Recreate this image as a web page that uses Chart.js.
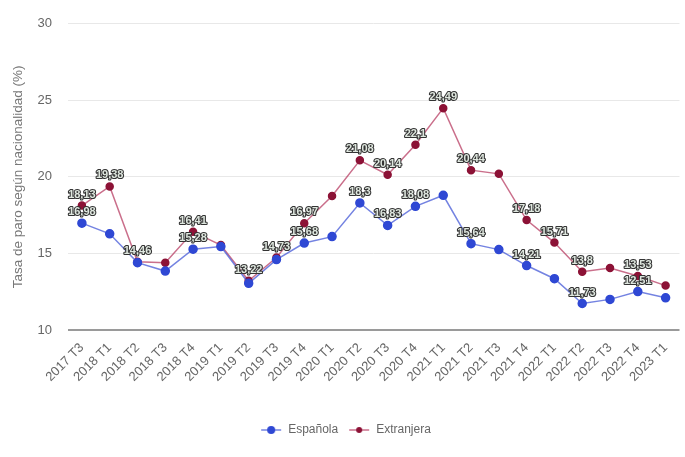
<!DOCTYPE html>
<html><head><meta charset="utf-8">
<script src="https://cdn.jsdelivr.net/npm/chart.js@4/dist/chart.umd.min.js"></script>
<style>html,body{margin:0;padding:0;background:#fff}</style>
</head><body>
<canvas id="c" width="685" height="457"></canvas>
<script>
const categories = ['2017 T3','2018 T1','2018 T2','2018 T3','2018 T4','2019 T1','2019 T2','2019 T3','2019 T4','2020 T1','2020 T2','2020 T3','2020 T4','2021 T1','2021 T2','2021 T3','2021 T4','2022 T1','2022 T2','2022 T3','2022 T4','2023 T1'];
const espanola = [16.98,16.28,14.4,13.85,15.28,15.45,13.05,14.6,15.68,16.1,18.3,16.83,18.08,18.8,15.64,15.25,14.21,13.35,11.73,12.0,12.51,12.1];
const extranjera = [18.13,19.38,14.46,14.4,16.41,15.55,13.22,14.73,16.97,18.75,21.08,20.14,22.1,24.49,20.44,20.2,17.18,15.71,13.8,14.05,13.53,12.9];
const espanolaLabeled = [0,4,8,10,11,12,14,16,18,20];
const extranjeraLabeled = [0,1,2,4,6,7,8,10,11,12,13,14,16,17,18,20];
const yTicks = [10,15,20,25,30];
const yTitle = 'Tasa de paro según nacionalidad (%)';

const BLUE = '#2f48d4', BLUE_LINE = 'rgba(70,90,215,0.75)';
const RED = '#8c1236', RED_LINE = 'rgba(180,50,90,0.7)';
const FONT = '"Liberation Sans", Arial, sans-serif';

function legendIcon(lineColor, dotColor, r){
  const cv = document.createElement('canvas');
  cv.width = 22; cv.height = 10;
  const g = cv.getContext('2d');
  g.strokeStyle = lineColor; g.lineWidth = 1.5;
  g.beginPath(); g.moveTo(1,5); g.lineTo(21,5); g.stroke();
  g.fillStyle = dotColor; g.beginPath(); g.arc(11,5,r,0,Math.PI*2); g.fill();
  return cv;
}

const labelPlugin = {
  id:'ptLabels',
  afterDatasetsDraw(chart){
    const ctx = chart.ctx;
    ctx.save();
    ctx.font = 'bold 11px ' + FONT;
    ctx.textAlign = 'center'; ctx.textBaseline = 'middle';
    ctx.lineJoin = 'round';
    chart.data.datasets.forEach((ds,di)=>{
      const meta = chart.getDatasetMeta(di);
      ds.labeled.forEach(i=>{
        const el = meta.data[i];
        const t = String(ds.data[i]).replace('.',',');
        ctx.lineWidth = 2.2; ctx.strokeStyle = '#333';
        ctx.strokeText(t, el.x, el.y - 11);
        ctx.fillStyle = '#dfe7df';
        ctx.fillText(t, el.x, el.y - 11);
      });
    });
    ctx.restore();
  }
};

new Chart(document.getElementById('c'), {
  type:'line',
  data:{
    labels: categories,
    datasets:[
      {label:'Española', data: espanola, labeled: espanolaLabeled, borderColor: BLUE_LINE, backgroundColor: BLUE,
       pointBackgroundColor: BLUE, pointBorderColor: BLUE, pointRadius: 4, borderWidth: 1.5, tension: 0,
       pointStyle: 'circle'},
      {label:'Extranjera', data: extranjera, labeled: extranjeraLabeled, borderColor: RED_LINE, backgroundColor: RED,
       pointBackgroundColor: RED, pointBorderColor: RED, pointRadius: 3.5, borderWidth: 1.5, tension: 0,
       pointStyle: 'circle'}
    ]
  },
  options:{
    responsive:false, animation:false, devicePixelRatio:1,
    layout:{padding:{top:20, left:6, right:0, bottom:11}},
    plugins:{
      legend:{position:'bottom',
        labels:{usePointStyle:true, pointStyleWidth:22, boxHeight:12, padding:10, color:'#666', font:{family:FONT,size:12},
          generateLabels(chart){
            return chart.data.datasets.map((ds,i)=>({
              text: ds.label, datasetIndex:i, fontColor:'#666',
              pointStyle: i===0 ? legendIcon(BLUE_LINE, BLUE, 4) : legendIcon(RED_LINE, RED, 3),
              hidden:false, lineWidth:0, strokeStyle:'transparent', fillStyle:'transparent'
            }));
          }}},
      tooltip:{enabled:false}
    },
    scales:{
      x:{offset:true,
        grid:{display:false}, border:{display:false},
        ticks:{autoSkip:false, maxRotation:45, minRotation:45, color:'#666', font:{family:FONT,size:13}, padding:2},
        afterFit(s){ s.height = 84; }
      },
      y:{min:10, max:30,
        afterBuildTicks(s){ s.ticks = yTicks.map(v=>({value:v})); },
        grid:{drawTicks:false, color:(c)=> c.tick && c.tick.value===10 ? '#9a9a9a' : '#e8e8e8',
              lineWidth:(c)=> c.tick && c.tick.value===10 ? 2 : 1},
        border:{display:false},
        ticks:{color:'#666', font:{family:FONT,size:13}, padding:16},
        title:{display:true, text:yTitle, color:'#777', font:{family:FONT,size:13.5}, padding:{top:4,bottom:0}},
        afterFit(s){ s.width = 62; }
      }
    }
  },
  plugins:[labelPlugin]
});
</script>
</body></html>
